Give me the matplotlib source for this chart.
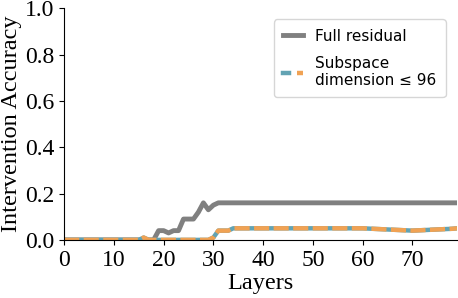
import numpy as np
import matplotlib
matplotlib.use('Agg')
import matplotlib.pyplot as plt
from matplotlib.legend_handler import HandlerTuple

layers = list(range(80))

# full residual accuracy per layer
full_residual = [0.0] * 19 + [0.04, 0.04, 0.03, 0.04, 0.04, 0.09, 0.09, 0.09, 0.12, 0.16, 0.13, 0.15] + [0.16] * 49

# subspace accuracy per layer
subspace = ([0.0] * 16 + [0.01] + [0.0] * 13 + [0.01, 0.04, 0.04, 0.04, 0.05] + [0.05] * 26
            + [0.049, 0.048, 0.047, 0.046, 0.045, 0.044, 0.043, 0.042, 0.041, 0.04]
            + [0.041, 0.042, 0.043, 0.044, 0.045, 0.046, 0.047, 0.048, 0.05])

fig, ax = plt.subplots(figsize=(4.58, 2.98), dpi=100)
full_line, = ax.plot(layers, full_residual, color='#808080', lw=3.5)
blue_line, = ax.plot(layers, subspace, color='#62a3b3', lw=3.2)
orange_line, = ax.plot(layers, subspace, color='#f0a254', lw=3.2, ls=(0, (3.4, 1.0)))

ax.set_xlim(0, 79)
ax.set_ylim(0, 1.0)
ax.set_xticks(range(0, 80, 10))
ax.set_yticks(np.arange(0, 1.01, 0.2))
ax.spines['top'].set_visible(False)
ax.spines['right'].set_visible(False)

serif = {'family': 'Liberation Serif', 'size': 17.5}
ax.set_xlabel('Layers', fontdict=serif, labelpad=2)
ax.set_ylabel('Intervention Accuracy', fontdict=serif, labelpad=2)
for lab in ax.get_xticklabels() + ax.get_yticklabels():
    lab.set_fontfamily('Liberation Serif')
    lab.set_fontsize(17)

ax.legend([full_line, (blue_line, orange_line)],
          ['Full residual', 'Subspace\ndimension ≤ 96'],
          handler_map={tuple: HandlerTuple(ndivide=None, pad=0.5)},
          loc='upper right', fontsize=11, handlelength=1.3, labelspacing=0.8,
          borderpad=0.6, bbox_to_anchor=(0.99, 0.985))

fig.subplots_adjust(left=0.14, right=0.998, top=0.972, bottom=0.195)
fig.savefig('out.png', dpi=100)
